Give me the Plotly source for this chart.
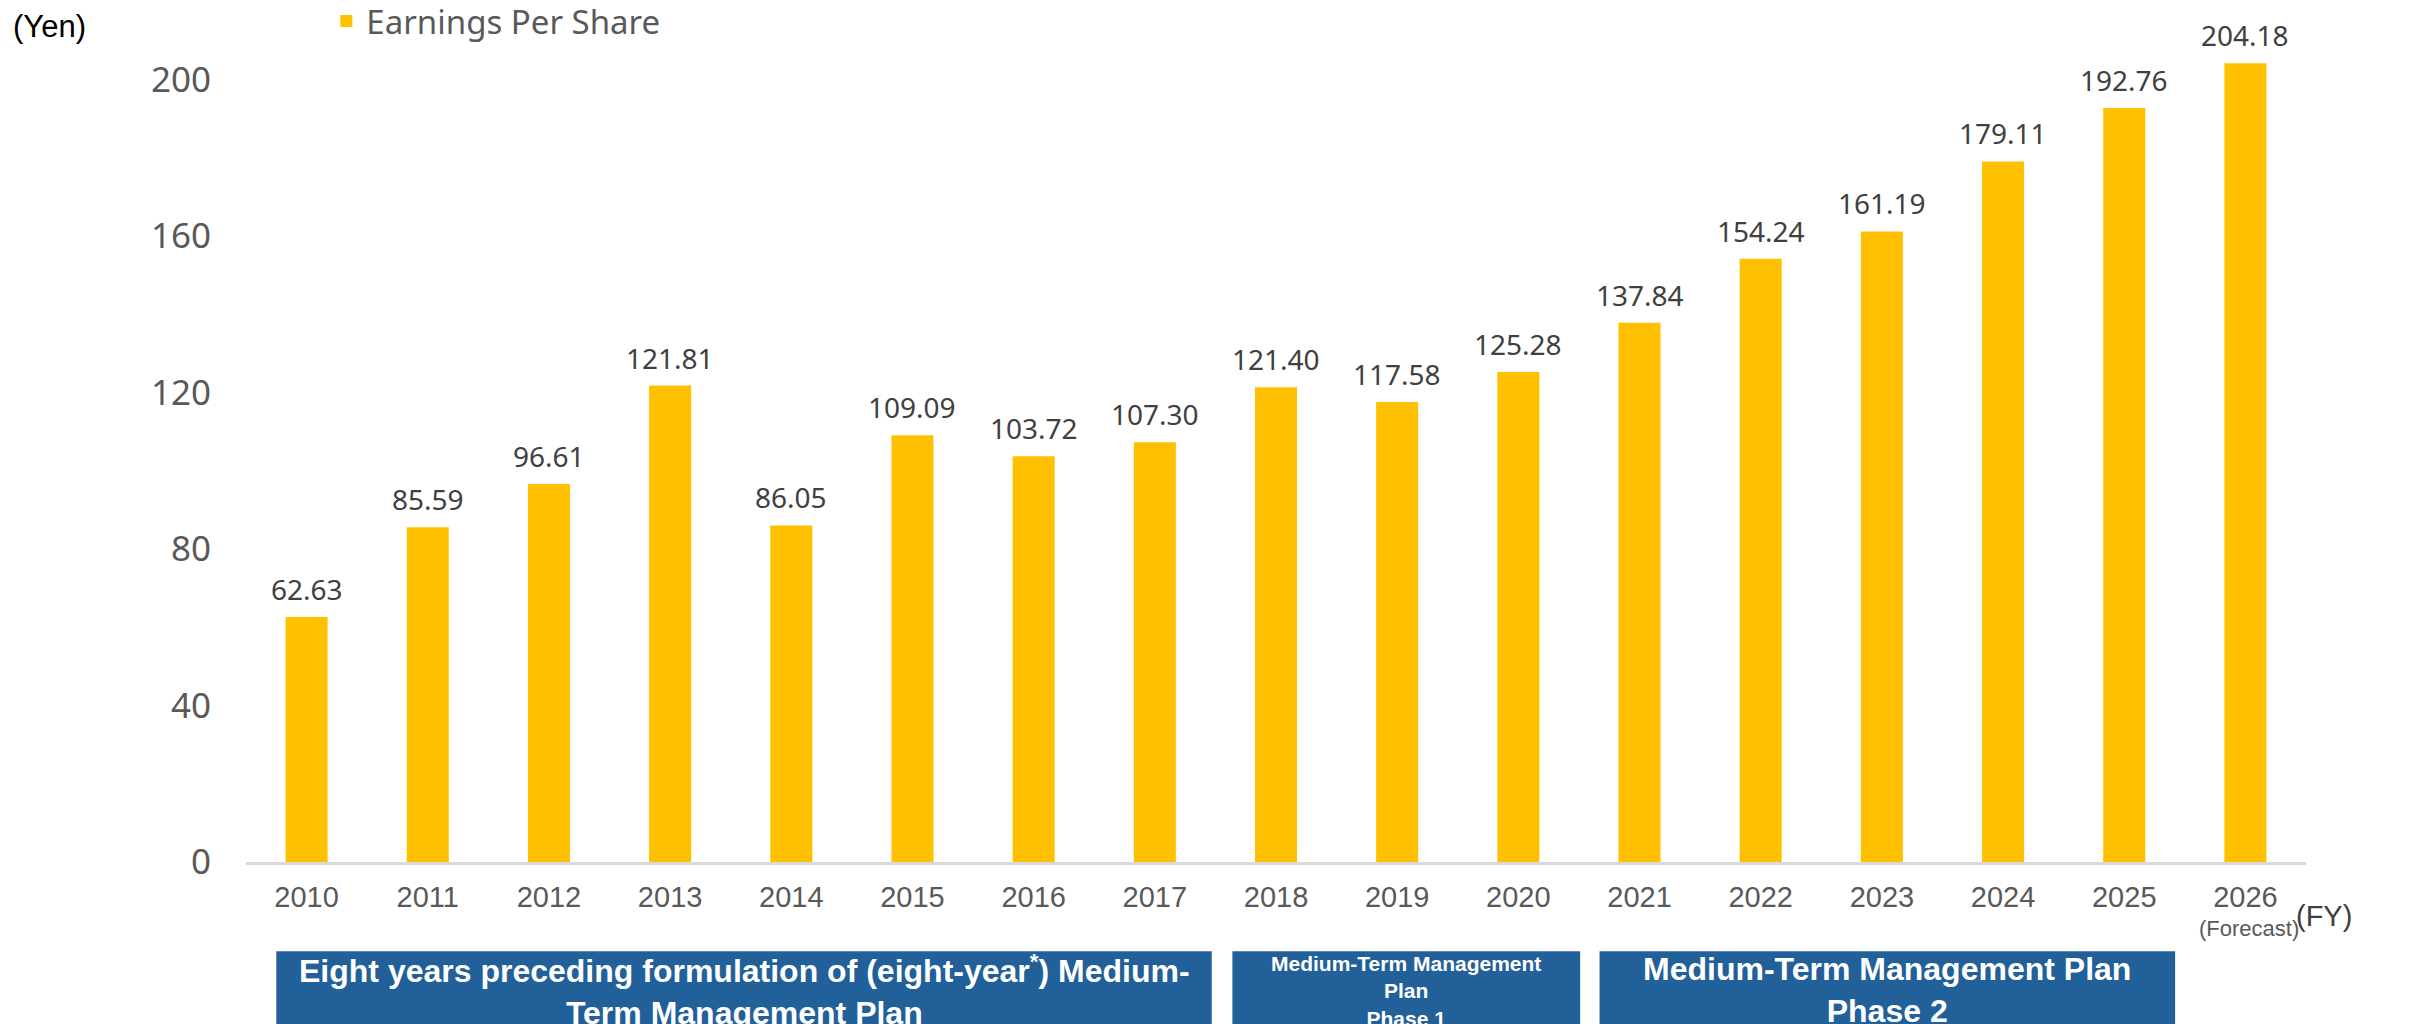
import plotly.graph_objects as go

# Fiscal years and earnings per share (yen)
years = ["2010", "2011", "2012", "2013", "2014", "2015", "2016", "2017", "2018",
         "2019", "2020", "2021", "2022", "2023", "2024", "2025", "2026"]
eps = [62.63, 85.59, 96.61, 121.81, 86.05, 109.09, 103.72, 107.30, 121.40,
       117.58, 125.28, 137.84, 154.24, 161.19, 179.11, 192.76, 204.18]
y_ticks = [0, 40, 80, 120, 160, 200]

# Plan periods shown as blue bands under the axis:
# (left edge, right edge in category units, text, font size, text top)
plans = [
    (-0.25, 7.47, "Eight years preceding formulation of (eight-year<sup>*</sup>) Medium-<br>Term Management Plan", 32, -0.101),
    (7.64, 10.51, "Medium-Term Management<br>Plan<br>Phase 1", 21, -0.105),
    (10.67, 15.42, "Medium-Term Management Plan<br>Phase 2", 32, -0.103),
]

BAR = "#FFC000"
BAND = "#22609A"

fig = go.Figure()
fig.add_trace(go.Bar(
    x=years, y=eps, name="Earnings Per Share",
    marker=dict(color=BAR, line=dict(width=0)),
))

# value labels above each bar
for i, v in enumerate(eps):
    fig.add_annotation(xref="x", yref="y", x=i, y=v, yanchor="middle", yshift=28,
                       showarrow=False, text=f"{v:.2f}",
                       font=dict(family="Noto Sans", size=28, color="#404040"))

for x0, x1, label, fs, ytop in plans:
    fig.add_shape(type="rect", xref="x", yref="paper", x0=x0, x1=x1,
                  y0=-0.30, y1=-0.106, fillcolor=BAND, line=dict(width=0), layer="above")
    fig.add_annotation(xref="x", yref="paper", x=(x0 + x1) / 2, y=ytop,
                       yanchor="top", xanchor="center", showarrow=False, text=label,
                       font=dict(family="Liberation Sans", size=fs, color="white",
                                 weight="bold"),
                       align="center")

fig.add_annotation(xref="paper", yref="paper", x=-0.114, y=0.993, xanchor="left",
                   yanchor="middle", showarrow=False, text="(Yen)",
                   font=dict(family="Liberation Sans", size=31, color="black"))
fig.add_annotation(xref="paper", yref="paper", x=1.0, y=-0.064, xanchor="center",
                   yanchor="middle", showarrow=False, text="(FY)", xshift=18,
                   font=dict(family="Liberation Sans", size=29, color="#404040"))
# forecast note under the last fiscal year
fig.add_annotation(xref="x", yref="paper", x=len(years) - 1, y=-0.0785, xanchor="center",
                   yanchor="middle", showarrow=False, text="(Forecast)", xshift=4,
                   font=dict(family="Liberation Sans", size=22, color="#595959"))

fig.update_layout(
    width=2410, height=1024,
    margin=dict(l=246, r=104, t=21, b=162, autoexpand=False),
    paper_bgcolor="white", plot_bgcolor="white",
    bargap=0.653,
    showlegend=True,
    legend=dict(orientation="h", x=0.039, y=1.0, xanchor="left", yanchor="middle",
                font=dict(family="Noto Sans", size=33, color="#595959"),
                itemwidth=30, bgcolor="rgba(0,0,0,0)"),
    xaxis=dict(type="category", range=[-0.5, len(years) - 0.5],
               tickvals=years, ticktext=years,
               tickfont=dict(family="Liberation Sans", size=29, color="#595959"),
               showline=True, linecolor="#D9D9D9", linewidth=3,
               showgrid=False, ticks="", ticklabelstandoff=7, fixedrange=True),
    yaxis=dict(range=[0, 215], tickvals=y_ticks, showgrid=False, zeroline=False,
               showline=False, ticks="",
               tickfont=dict(family="Noto Sans", size=35, color="#595959"),
               ticklabelstandoff=34),
)

fig.write_html("out.html")
